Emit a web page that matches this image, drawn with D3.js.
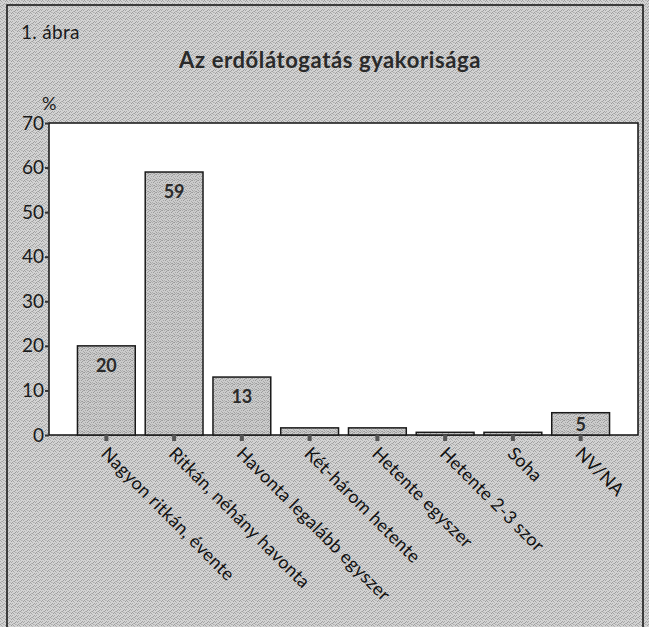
<!DOCTYPE html>
<html>
<head>
<meta charset="utf-8">
<script src="https://cdn.jsdelivr.net/npm/d3@7"></script>
<style>
  body { margin: 0; background: #fff; }
  svg text { font-family: Lato, "Noto Sans", sans-serif; }
</style>
</head>
<body>
<script>
// chart data
var categories = ["Nagyon ritkán, évente", "Ritkán, néhány havonta", "Havonta legalább egyszer",
                  "Két-három hetente", "Hetente egyszer", "Hetente 2-3 szor", "Soha", "NV/NA"];
var values = [20, 59, 13, 1.6, 1.6, 0.6, 0.6, 5];
var valueLabels = ["20", "59", "13", "", "", "", "", "5"];
var yTicks = [0, 10, 20, 30, 40, 50, 60, 70];

// page size and plot box
var W = 649, H = 627;
var plot = {left: 49, top: 123, right: 638, bottom: 435};

var svg = d3.select("body").append("svg")
    .attr("width", W)
    .attr("height", H);

// speckled grey like the scanned paper
var defs = svg.append("defs");
function speckle(id, base, dots) {
  var p = defs.append("pattern")
      .attr("id", id)
      .attr("width", 6).attr("height", 6)
      .attr("patternUnits", "userSpaceOnUse");
  p.append("rect").attr("width", 6).attr("height", 6).attr("fill", base);
  dots.forEach(function(d) {
    p.append("rect")
        .attr("x", d[0]).attr("y", d[1])
        .attr("width", 1).attr("height", 1)
        .attr("fill", d[2]);
  });
}
speckle("stipple", "#d3d3d3", [
  [0, 0, "#9e9e9e"], [3, 0, "#b0b0b0"], [1, 1, "#a6a6a6"], [5, 1, "#9a9a9a"],
  [2, 2, "#b4b4b4"], [4, 3, "#a2a2a2"], [0, 3, "#aaaaaa"], [3, 4, "#9c9c9c"],
  [1, 5, "#b2b2b2"], [5, 4, "#a8a8a8"], [2, 5, "#a0a0a0"], [4, 0, "#bcbcbc"]
]);
speckle("barfill", "#cbcbcb", [
  [0, 0, "#999"], [2, 0, "#aaa"], [4, 1, "#9d9d9d"], [1, 2, "#a5a5a5"],
  [3, 2, "#999"], [5, 3, "#a8a8a8"], [0, 4, "#9f9f9f"], [2, 4, "#aeaeae"],
  [4, 5, "#9b9b9b"], [1, 5, "#b0b0b0"], [5, 0, "#a3a3a3"], [3, 5, "#a6a6a6"]
]);

svg.append("rect")
    .attr("width", W).attr("height", H)
    .attr("fill", "url(#stipple)");

// outer frame
svg.append("rect")
    .attr("x", 7).attr("y", 5)
    .attr("width", 636).attr("height", 660)
    .attr("fill", "none")
    .attr("stroke", "#111")
    .attr("stroke-width", 1.5);

// captions
svg.append("text")
    .attr("x", 21).attr("y", 39)
    .style("font-size", "19px")
    .style("letter-spacing", "0.3px")
    .style("fill", "#1a1a1a")
    .text("1. ábra");

svg.append("text")
    .attr("x", 330).attr("y", 68)
    .attr("text-anchor", "middle")
    .style("font-size", "22px")
    .style("font-weight", "bold")
    .style("letter-spacing", "0.6px")
    .style("fill", "#2a2a2a")
    .text("Az erdőlátogatás gyakorisága");

svg.append("text")
    .attr("x", 42).attr("y", 110)
    .style("font-size", "18px")
    .style("fill", "#1a1a1a")
    .text("%");

// scales
var x = d3.scaleBand()
    .domain(categories)
    .range([plot.left, plot.right])
    .paddingInner(0.147)
    .paddingOuter(0.42);

var y = d3.scaleLinear()
    .domain([0, 70])
    .range([plot.bottom, plot.top]);

// white plot area
svg.append("rect")
    .attr("x", plot.left).attr("y", plot.top)
    .attr("width", plot.right - plot.left)
    .attr("height", plot.bottom - plot.top)
    .attr("fill", "#fff")
    .attr("stroke", "#111")
    .attr("stroke-width", 1.5);

// bars
svg.selectAll(".bar")
    .data(values)
    .enter().append("rect")
    .attr("class", "bar")
    .attr("x", function(d, i) { return x(categories[i]); })
    .attr("y", function(d) { return y(d); })
    .attr("width", x.bandwidth())
    .attr("height", function(d) { return y(0) - y(d); })
    .attr("fill", "url(#barfill)")
    .attr("stroke", "#1a1a1a")
    .attr("stroke-width", 1.5);

// value labels inside bars
svg.selectAll(".vlabel")
    .data(values)
    .enter().append("text")
    .attr("class", "vlabel")
    .attr("x", function(d, i) { return x(categories[i]) + x.bandwidth() / 2; })
    .attr("y", function(d) { return Math.min(y(d) + 26, y(0) - 4); })
    .attr("text-anchor", "middle")
    .style("font-size", "18px")
    .style("font-weight", "bold")
    .style("fill", "#2a2a2a")
    .text(function(d, i) { return valueLabels[i]; });

// Y axis
var yAxis = svg.append("g")
    .attr("transform", "translate(" + plot.left + ",0)")
    .call(d3.axisLeft(y).tickValues(yTicks).tickSize(4).tickPadding(1));
yAxis.select(".domain").remove();
yAxis.selectAll("line").attr("stroke", "#333").attr("stroke-width", 2);
yAxis.selectAll("text")
    .style("font-size", "19px")
    .style("fill", "#1a1a1a")
    .style("font-family", "Lato, sans-serif");

// X axis, ticks and rotated labels
var xAxis = svg.append("g")
    .attr("transform", "translate(0," + plot.bottom + ")")
    .call(d3.axisBottom(x).tickSize(6).tickPadding(0));
xAxis.select(".domain").remove();
xAxis.selectAll("line").attr("stroke", "#555").attr("stroke-width", 4);
xAxis.selectAll("text")
    .attr("dy", 0)
    .attr("transform", "translate(0,2) rotate(45)")
    .attr("x", 8)
    .attr("y", 17)
    .style("text-anchor", "start")
    .style("font-size", "18px")
    .style("letter-spacing", "0.3px")
    .style("fill", "#111")
    .style("font-family", "Lato, sans-serif");
</script>
</body>
</html>
